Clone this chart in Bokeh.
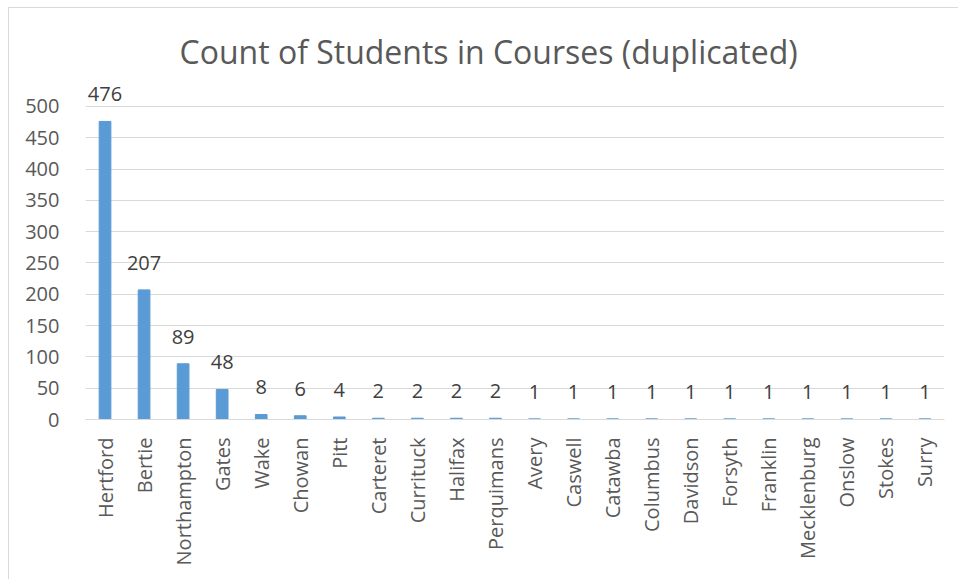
import math
from bokeh.plotting import figure
from bokeh.models import ColumnDataSource, FactorRange, Range1d, FixedTicker
from bokeh.core.properties import value
from bokeh.embed import file_html
from bokeh.resources import INLINE

counties = ["Hertford", "Bertie", "Northampton", "Gates", "Wake", "Chowan", "Pitt",
            "Carteret", "Currituck", "Halifax", "Perquimans", "Avery", "Caswell",
            "Catawba", "Columbus", "Davidson", "Forsyth", "Franklin", "Mecklenburg",
            "Onslow", "Stokes", "Surry"]
counts = [476, 207, 89, 48, 8, 6, 4, 2, 2, 2, 2, 1, 1, 1, 1, 1, 1, 1, 1, 1, 1, 1]
y_ticks = [0, 50, 100, 150, 200, 250, 300, 350, 400, 450, 500]
title_text = "Count of Students in Courses (duplicated)"

FONT = "Open Sans"
src = ColumnDataSource(dict(x=counties, y=counts, lab=[str(c) for c in counts]))

p = figure(width=950, height=572, output_backend="svg", toolbar_location=None,
           x_range=FactorRange(*counties), y_range=Range1d(0, 535),
           min_border_left=76, min_border_right=15, min_border_top=76,
           min_border_bottom=161)
p.title.text = title_text
p.title.align = "left"
p.title.text_font = FONT
p.title.text_font_size = "32px"
p.title.text_font_style = "normal"
p.title.text_color = "#595959"
p.title.offset = 94
p.title.standoff = 23

p.vbar(x="x", top="y", width=0.3, source=src, color="#5B9BD5")
p.text(x="x", y="y", text="lab", source=src, text_font=value(FONT),
       text_font_size="20px", text_color="#404040", text_align="center",
       text_baseline="bottom", y_offset=-20)

p.outline_line_color = None
p.xgrid.grid_line_color = None
p.ygrid.grid_line_color = "#D9D9D9"
p.ygrid.ticker = FixedTicker(ticks=y_ticks)
p.yaxis.ticker = FixedTicker(ticks=y_ticks)
p.yaxis.axis_line_color = None
p.yaxis.major_tick_line_color = None
p.yaxis.minor_tick_line_color = None
p.yaxis.major_label_text_font = FONT
p.yaxis.major_label_text_font_size = "20px"
p.yaxis.major_label_text_color = "#595959"
p.yaxis.major_label_standoff = 20

p.xaxis.axis_line_color = "#D9D9D9"
p.xaxis.major_tick_line_color = None
p.xaxis.major_label_orientation = math.pi / 2
p.xaxis.major_label_text_font = FONT
p.xaxis.major_label_text_font_size = "20px"
p.xaxis.major_label_text_color = "#595959"
p.xaxis.major_label_standoff = 12
p.styles = {"border-top": "1px solid #D9D9D9", "border-left": "1px solid #D9D9D9",
            "margin-left": "8px", "margin-top": "7px"}

open("out.html", "w").write(file_html(p, INLINE))
